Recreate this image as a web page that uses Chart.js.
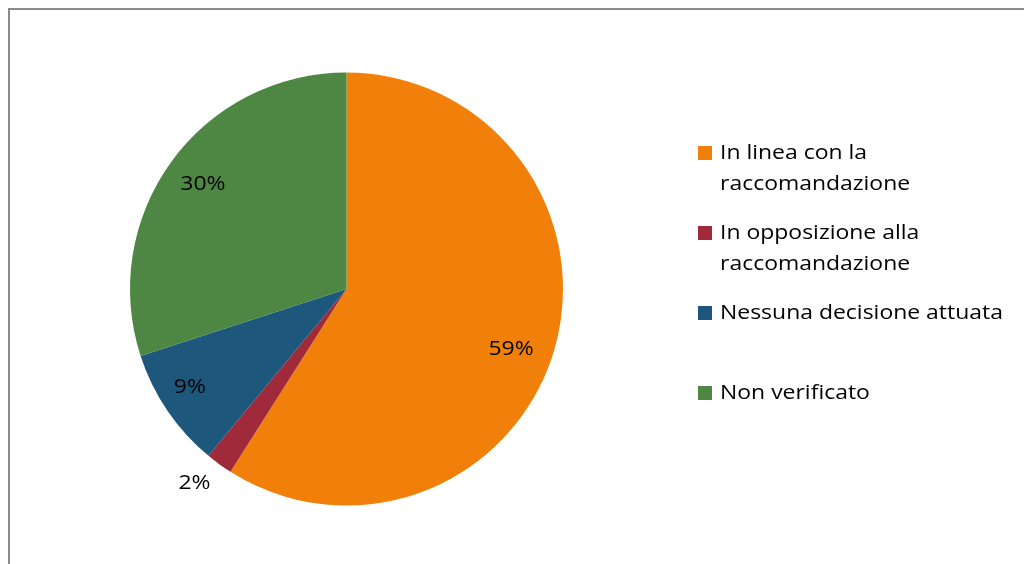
<!DOCTYPE html>
<html>
<head>
<meta charset="utf-8">
<script src="https://cdn.jsdelivr.net/npm/chart.js@4/dist/chart.umd.min.js"></script>
<style>
  html, body { margin: 0; padding: 0; background: #fff; }
  #wrap { position: relative; width: 1024px; height: 564px; overflow: hidden; }
</style>
</head>
<body>
<div id="wrap"><canvas id="pieCanvas" width="1024" height="564"></canvas></div>
<script>
// categories (multi-line where the legend wraps) and their shares in %
const categories = [
  ["In linea con la", "raccomandazione"],
  ["In opposizione alla", "raccomandazione"],
  ["Nessuna decisione attuata"],
  ["Non verificato"]
];
const shares = [59, 2, 9, 30];
const sliceColors = ["#F0800A", "#A0293A", "#1D587C", "#4E8743"];

const FONT = "20px 'Open Sans', Lato, sans-serif";

// where each percent label sits: fraction of the radius, plus a small angle nudge (deg)
const labelPlace = [
  { r: 0.81, nudge: 4 },
  { r: 1.14, nudge: 2 },
  { r: 0.855, nudge: 2 },
  { r: 0.82, nudge: 0 }
];

// widen the text a little so the longest legend row spans ~283px
let stretch = 1;
function measureStretch(ctx) {
  ctx.save();
  ctx.font = FONT;
  stretch = 283 / ctx.measureText("Nessuna decisione attuata").width;
  ctx.restore();
}

function drawText(ctx, t, x, y) {
  ctx.save();
  ctx.translate(x, y);
  ctx.scale(stretch, 1);
  ctx.fillText(t, 0, 0);
  ctx.restore();
}

const frame = {
  id: "frame",
  beforeDraw(chart) {
    const ctx = chart.ctx;
    measureStretch(ctx);
    ctx.save();
    ctx.strokeStyle = "#8a8a8a";
    ctx.lineWidth = 2;
    ctx.beginPath();
    ctx.moveTo(9, 564);
    ctx.lineTo(9, 9);
    ctx.lineTo(1024, 9);
    ctx.stroke();
    ctx.restore();
  }
};

const percentLabels = {
  id: "percentLabels",
  afterDatasetsDraw(chart) {
    const ctx = chart.ctx;
    const meta = chart.getDatasetMeta(0);
    ctx.save();
    ctx.font = FONT;
    ctx.fillStyle = "#000";
    ctx.textAlign = "center";
    ctx.textBaseline = "middle";
    meta.data.forEach((arc, i) => {
      const p = arc.getProps(["x", "y", "startAngle", "endAngle", "outerRadius"], true);
      const mid = (p.startAngle + p.endAngle) / 2 + labelPlace[i].nudge * Math.PI / 180;
      const r = p.outerRadius * labelPlace[i].r;
      drawText(ctx, shares[i] + "%", p.x + Math.cos(mid) * r, p.y + Math.sin(mid) * r);
    });
    ctx.restore();
  }
};

const sideLegend = {
  id: "sideLegend",
  afterDraw(chart) {
    const ctx = chart.ctx;
    const x0 = 698, textX = 720, top = 153, step = 80, lineH = 31;
    ctx.save();
    ctx.font = FONT;
    ctx.textBaseline = "middle";
    chart.data.labels.forEach((lines, i) => {
      const y = top + i * step;
      ctx.fillStyle = chart.data.datasets[0].backgroundColor[i];
      ctx.fillRect(x0, y - 7, 14, 14);
      ctx.fillStyle = "#000";
      lines.forEach((t, j) => drawText(ctx, t, textX, y + j * lineH));
    });
    ctx.restore();
  }
};

new Chart(document.getElementById("pieCanvas"), {
  type: "pie",
  data: {
    labels: categories,
    datasets: [{
      data: shares,
      backgroundColor: sliceColors,
      borderWidth: 0
    }]
  },
  options: {
    responsive: false,
    animation: false,
    layout: { padding: { left: 130, right: 461, top: 72, bottom: 58 } },
    plugins: {
      legend: { display: false },
      tooltip: { enabled: false }
    }
  },
  plugins: [frame, percentLabels, sideLegend]
});
</script>
</body>
</html>
